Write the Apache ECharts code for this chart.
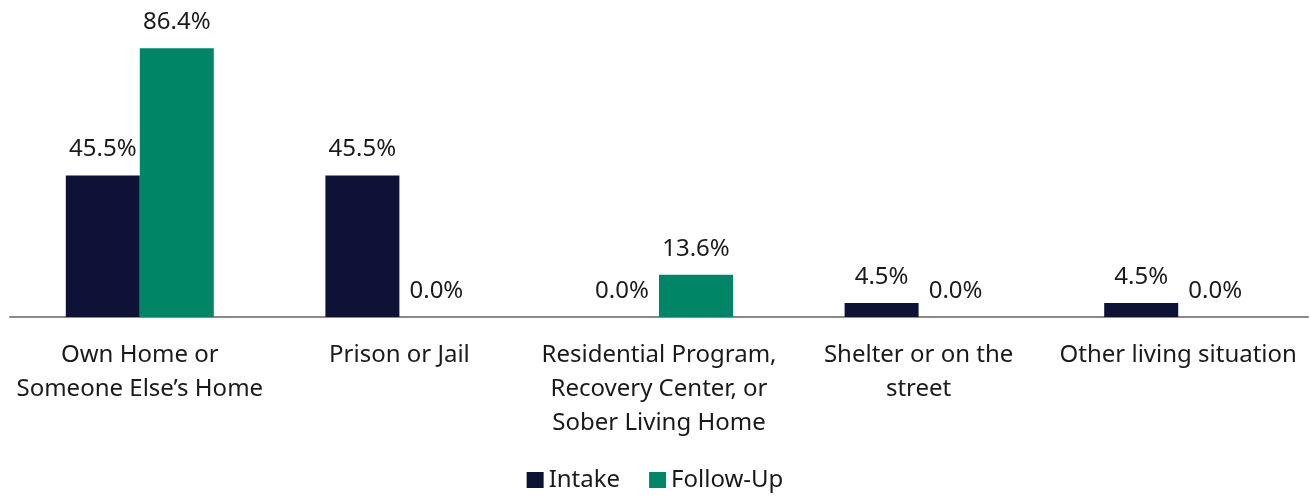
<!DOCTYPE html>
<html>
<head>
<meta charset="utf-8">
<script src="https://cdn.jsdelivr.net/npm/echarts@6/dist/echarts.min.js"></script>
<style>
html,body{margin:0;padding:0;background:#fff;}
#chart{width:1310px;height:497px;}
</style>
</head>
<body>
<div id="chart"></div>
<script>
const categories = [
  "Own Home or\nSomeone Else\u2019s Home",
  "Prison or Jail",
  "Residential Program,\nRecovery Center, or\nSober Living Home",
  "Shelter or on the\nstreet",
  "Other living situation"
];
const seriesNames = ["Intake", "Follow-Up"];
const intake = [45.5, 45.5, 0.0, 4.5, 4.5];
const followUp = [86.4, 0.0, 13.6, 0.0, 0.0];
const colors = ["#0e1236", "#008566"];

const FONT = "Noto Sans";
const chart = echarts.init(document.getElementById('chart'), null, {renderer: 'canvas'});
const labelCfg = {
  show: true,
  position: 'top',
  distance: 14,
  fontFamily: FONT,
  fontSize: 24,
  color: '#1a1a1a',
  formatter: p => p.value.toFixed(1) + '%'
};
chart.setOption({
  animation: false,
  color: colors,
  grid: {left: 10, right: 2, top: 37, bottom: 180, containLabel: false},
  legend: {
    bottom: 0,
    left: 'center',
    itemWidth: 17,
    itemHeight: 16,
    itemGap: 29,
    icon: 'rect',
    textStyle: {fontFamily: FONT, fontSize: 24, color: '#1a1a1a'},
    data: seriesNames
  },
  xAxis: {
    type: 'category',
    data: categories,
    axisLine: {show: true, lineStyle: {color: '#8a8a8a', width: 2}},
    axisTick: {show: false},
    axisLabel: {
      interval: 0,
      margin: 21,
      fontFamily: FONT,
      fontSize: 24,
      lineHeight: 34,
      color: '#1a1a1a'
    }
  },
  yAxis: {
    type: 'value',
    min: 0,
    max: 90,
    show: false,
    splitLine: {show: false}
  },
  series: [
    {name: seriesNames[0], type: 'bar', data: intake, barWidth: 74, barGap: '0%', label: labelCfg, itemStyle: {color: colors[0]}},
    {name: seriesNames[1], type: 'bar', data: followUp, barWidth: 74, barGap: '0%', label: labelCfg, itemStyle: {color: colors[1]}}
  ]
});
</script>
</body>
</html>
